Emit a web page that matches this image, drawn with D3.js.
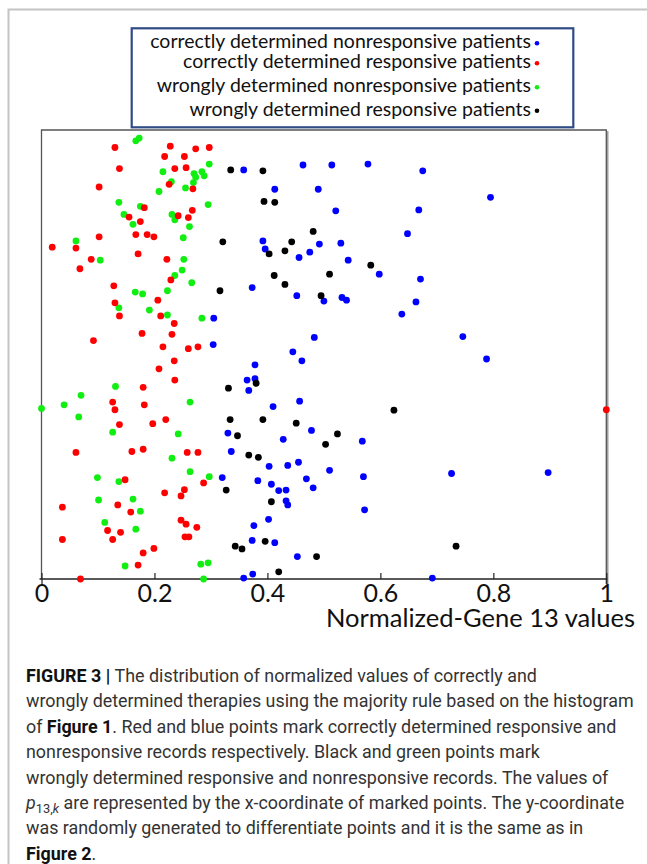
<!DOCTYPE html>
<html>
<head>
<meta charset="utf-8">
<script src="https://cdn.jsdelivr.net/npm/d3@7"></script>
<style>
  body { margin: 0; background: #fff; }
  svg { display: block; }
</style>
</head>
<body>
<svg id="fig"></svg>
<script>
// x = normalized gene 13 value, y = random value (only spreads the points)
var blueNonresp = [
  [0.463,0.922],[0.514,0.922],[0.578,0.924],[0.675,0.909],[0.358,0.911],[0.413,0.868],[0.490,0.868],[0.795,0.850],[0.521,0.820],[0.668,0.822],
  [0.648,0.769],[0.392,0.753],[0.396,0.735],[0.492,0.746],[0.530,0.748],[0.475,0.728],[0.456,0.716],[0.543,0.710],[0.598,0.679],[0.373,0.649],
  [0.671,0.668],[0.452,0.631],[0.500,0.619],[0.532,0.627],[0.540,0.621],[0.663,0.617],[0.638,0.590],[0.305,0.581],[0.304,0.522],[0.483,0.538],
  [0.746,0.540],[0.445,0.506],[0.461,0.486],[0.788,0.490],[0.378,0.477],[0.364,0.443],[0.378,0.446],[0.367,0.420],[0.410,0.384],[0.457,0.396],
  [0.330,0.325],[0.478,0.331],[0.428,0.311],[0.568,0.307],[0.336,0.284],[0.403,0.251],[0.436,0.253],[0.455,0.260],[0.510,0.242],[0.320,0.226],
  [0.383,0.219],[0.407,0.211],[0.469,0.223],[0.481,0.203],[0.570,0.228],[0.420,0.197],[0.433,0.198],[0.433,0.174],[0.436,0.165],[0.572,0.154],
  [0.402,0.133],[0.376,0.119],[0.373,0.086],[0.413,0.081],[0.453,0.050],[0.374,0.011],[0.358,0.002],[0.726,0.235],[0.897,0.237],[0.692,0.002]
];
var redResp = [
  [0.130,0.961],[0.228,0.964],[0.273,0.958],[0.297,0.961],[0.218,0.941],[0.253,0.941],[0.138,0.914],[0.236,0.914],[0.256,0.916],[0.226,0.879],
  [0.268,0.869],[0.102,0.873],[0.182,0.827],[0.242,0.809],[0.260,0.805],[0.267,0.821],[0.155,0.806],[0.175,0.796],[0.167,0.767],[0.187,0.767],
  [0.199,0.762],[0.102,0.762],[0.061,0.737],[0.019,0.739],[0.171,0.724],[0.088,0.712],[0.222,0.712],[0.068,0.691],[0.229,0.666],[0.128,0.653],
  [0.206,0.621],[0.130,0.615],[0.138,0.586],[0.211,0.586],[0.235,0.569],[0.178,0.547],[0.231,0.545],[0.092,0.531],[0.215,0.517],[0.260,0.513],
  [0.277,0.517],[0.235,0.486],[0.208,0.468],[0.236,0.443],[0.180,0.427],[0.126,0.394],[0.130,0.377],[0.182,0.388],[0.138,0.344],[0.197,0.346],
  [0.220,0.355],[0.061,0.282],[0.160,0.284],[0.180,0.289],[0.258,0.282],[0.277,0.282],[0.148,0.221],[0.287,0.214],[0.218,0.192],[0.253,0.199],
  [0.247,0.185],[0.037,0.160],[0.135,0.165],[0.158,0.149],[0.117,0.108],[0.140,0.104],[0.247,0.131],[0.256,0.122],[0.275,0.115],[0.254,0.094],
  [0.261,0.094],[0.037,0.088],[0.126,0.088],[0.199,0.068],[0.180,0.058],[0.171,0.031],[0.069,0.000],[1.000,0.377]
];
var greenNonresp = [
  [0.167,0.976],[0.173,0.982],[0.297,0.924],[0.215,0.907],[0.270,0.903],[0.273,0.895],[0.284,0.907],[0.288,0.898],[0.230,0.885],[0.269,0.883],
  [0.255,0.871],[0.208,0.863],[0.137,0.839],[0.175,0.830],[0.295,0.834],[0.231,0.812],[0.236,0.800],[0.146,0.812],[0.162,0.790],[0.262,0.785],
  [0.251,0.760],[0.061,0.753],[0.104,0.710],[0.252,0.712],[0.249,0.688],[0.236,0.676],[0.266,0.660],[0.166,0.639],[0.179,0.635],[0.223,0.642],
  [0.137,0.604],[0.191,0.599],[0.223,0.588],[0.284,0.581],[0.131,0.429],[0.070,0.409],[0.040,0.388],[0.000,0.380],[0.263,0.394],[0.066,0.361],
  [0.126,0.327],[0.242,0.323],[0.231,0.269],[0.099,0.226],[0.137,0.217],[0.263,0.239],[0.297,0.228],[0.101,0.176],[0.162,0.178],[0.175,0.151],
  [0.112,0.126],[0.167,0.111],[0.148,0.029],[0.282,0.033],[0.295,0.036],[0.287,0.000]
];
var blackResp = [
  [0.335,0.911],[0.392,0.909],[0.394,0.841],[0.413,0.839],[0.481,0.774],[0.321,0.751],[0.443,0.751],[0.403,0.724],[0.431,0.731],[0.583,0.699],
  [0.412,0.676],[0.510,0.679],[0.431,0.656],[0.316,0.642],[0.495,0.631],[0.380,0.436],[0.331,0.425],[0.624,0.376],[0.334,0.355],[0.392,0.355],
  [0.451,0.347],[0.347,0.319],[0.524,0.323],[0.503,0.300],[0.367,0.276],[0.384,0.271],[0.327,0.198],[0.407,0.172],[0.396,0.084],[0.343,0.073],
  [0.355,0.067],[0.487,0.050],[0.420,0.016],[0.734,0.073]
];

var legendLabels = [
  "correctly determined nonresponsive patients",
  "correctly determined responsive patients",
  "wrongly determined nonresponsive patients",
  "wrongly determined responsive patients"
];
var legendColors = ["#0000ff", "#ff0000", "#11ee11", "#000000"];
var tickValues = [0, 0.2, 0.4, 0.6, 0.8, 1];
var tickLabels = ["0", "0.2", "0.4", "0.6", "0.8", "1"];
var axisTitle = "Normalized-Gene 13 values";

// caption runs: [text, style]  b = bold, i = italic, sub = subscript
var captionLines = [
  [["FIGURE 3 | ", "b"], ["The distribution of normalized values of correctly and", ""]],
  [["wrongly determined therapies using the majority rule based on the histogram", ""]],
  [["of ", ""], ["Figure 1", "b"], [". Red and blue points mark correctly determined responsive and", ""]],
  [["nonresponsive records respectively. Black and green points mark", ""]],
  [["wrongly determined responsive and nonresponsive records. The values of", ""]],
  [["p", "i"], ["13,", "sub"], ["k", "subi"], [" are represented by the x-coordinate of marked points. The y-coordinate", "up"]],
  [["was randomly generated to differentiate points and it is the same as in", ""]],
  [["Figure 2", "b"], [".", ""]]
];

var svgWidth = 647, svgHeight = 864;
var svg = d3.select("#fig")
    .attr("width", svgWidth)
    .attr("height", svgHeight);

// light frame round the figure
svg.append("path")
    .attr("d", "M8.5,864V9.5H647")
    .attr("fill", "none")
    .attr("stroke", "#c4c4c4")
    .attr("stroke-width", 2);

var plot = { left: 41.5, right: 606.3, top: 130, bottom: 579 };

var xScale = d3.scaleLinear()
    .domain([0, 1])
    .range([plot.left, plot.right]);

var yScale = d3.scaleLinear()
    .domain([0, 1])
    .range([plot.bottom, plot.top]);

// plot box (right side has a grey shadow)
svg.append("line")
    .attr("x1", plot.right + 1.2).attr("x2", plot.right + 1.2)
    .attr("y1", plot.top + 1).attr("y2", plot.bottom + 5)
    .attr("stroke", "#a0a0a0").attr("stroke-width", 2);
svg.append("path")
    .attr("d", "M" + plot.left + "," + plot.bottom + "V" + plot.top + "H" + plot.right + "V" + (plot.bottom + 5))
    .attr("fill", "none")
    .attr("stroke", "#555")
    .attr("stroke-width", 1.3);

// x axis, ticks point up into the plot
var xAxis = d3.axisBottom(xScale)
    .tickValues(tickValues)
    .tickFormat(function(d, i) { return tickLabels[i]; })
    .tickSize(-6)
    .tickSizeOuter(0);

var gx = svg.append("g")
    .attr("transform", "translate(0," + plot.bottom + ")")
    .call(xAxis);

gx.select(".domain")
    .attr("d", "M" + (plot.left - 2) + ",0H" + (plot.right + 1))
    .attr("stroke", "#222")
    .attr("stroke-width", 1.6);
gx.selectAll(".tick line")
    .attr("stroke", "#222")
    .attr("stroke-width", 1.2)
    .attr("y1", function(d) { return (d === 0 || d === 1) ? 5 : 0; });
gx.selectAll(".tick text")
    .attr("y", 23)
    .attr("dy", 0)
    .attr("font-family", "Lato, 'Open Sans', sans-serif")
    .attr("font-size", 25)
    .attr("fill", "#111");

svg.append("text")
    .attr("x", 635)
    .attr("y", 627)
    .attr("text-anchor", "end")
    .attr("font-family", "Lato, 'Open Sans', sans-serif")
    .attr("font-size", 25.5)
    .attr("fill", "#111")
    .text(axisTitle);

// points
function drawPoints(data, color) {
    svg.append("g")
        .selectAll("circle")
        .data(data)
        .enter()
        .append("circle")
        .attr("cx", function(d) { return xScale(d[0]); })
        .attr("cy", function(d) { return yScale(d[1]); })
        .attr("r", 3.4)
        .attr("fill", color);
}
drawPoints(greenNonresp, legendColors[2]);
drawPoints(redResp, legendColors[1]);
drawPoints(blueNonresp, legendColors[0]);
drawPoints(blackResp, legendColors[3]);

// legend box
svg.append("rect")
    .attr("x", 131.7)
    .attr("y", 28.3)
    .attr("width", 441.6)
    .attr("height", 99)
    .attr("fill", "#fff")
    .attr("stroke", "#2f4b86")
    .attr("stroke-width", 2.2);

var legendRowY = [48.3, 68.3, 92.3, 115.7];
var legendText = svg.append("g").selectAll("text")
    .data(legendLabels)
    .enter()
    .append("text")
    .attr("x", 531)
    .attr("y", function(d, i) { return legendRowY[i]; })
    .attr("text-anchor", "end")
    .attr("font-family", "Lato, 'Open Sans', sans-serif")
    .attr("font-size", 18)
    .attr("fill", "#111")
    .text(function(d) { return d; });

// scale legend font so the first row is as wide as in the figure
var w0 = legendText.node().getComputedTextLength();
legendText.attr("font-size", 18 * 381 / w0);

svg.append("g").selectAll("circle")
    .data(legendColors)
    .enter()
    .append("circle")
    .attr("cx", 537)
    .attr("cy", function(d, i) { return legendRowY[i] - 5; })
    .attr("r", 2.3)
    .attr("fill", function(d) { return d; });

// caption
var cap = svg.append("g")
    .attr("font-family", "Roboto, 'Liberation Sans', sans-serif")
    .attr("fill", "#333")
    .style("white-space", "pre");

var capText = cap.selectAll("text")
    .data(captionLines)
    .enter()
    .append("text")
    .attr("x", 26)
    .attr("y", function(d, i) { return 682 + i * 25.4; })
    .attr("font-size", 17);

capText.selectAll("tspan")
    .data(function(d) { return d; })
    .enter()
    .append("tspan")
    .attr("font-weight", function(d) { return d[1] === "b" ? 700 : 400; })
    .attr("fill", function(d) { return d[1] === "b" ? "#111" : null; })
    .attr("font-style", function(d) { return (d[1] === "i" || d[1] === "subi") ? "italic" : null; })
    .attr("font-size", function(d) { return (d[1] === "sub" || d[1] === "subi") ? "0.72em" : null; })
    .attr("dy", function(d) { return d[1] === "sub" ? 4 : (d[1] === "up" ? -4 : null); })
    .text(function(d) { return d[0]; });

// fit the widest caption line to the figure width
var capW = capText.filter(function(d, i) { return i === 1; }).node().getComputedTextLength();
capText.attr("font-size", 17 * 608 / capW);
</script>
</body>
</html>
